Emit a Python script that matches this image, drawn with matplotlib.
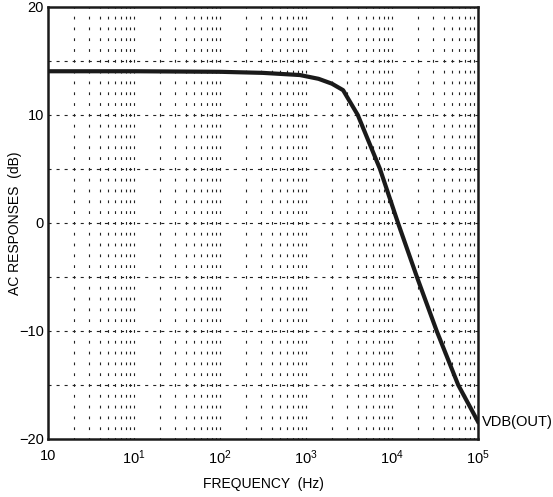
import numpy as np
import matplotlib
matplotlib.use("Agg")
import matplotlib.pyplot as plt

plt.rcParams['font.family'] = ['Liberation Sans', 'DejaVu Sans']
plt.rcParams['mathtext.default'] = 'regular'
plt.rcParams['lines.scale_dashes'] = False

# frequency response
freq = [1, 10, 100, 316, 850, 1400, 2000, 2700, 4000, 7250, 11750, 19500, 33100, 58900, 100000]
vdb = [14.05, 14.05, 14.0, 13.9, 13.7, 13.35, 12.9, 12.3, 10.0, 5.0, 0.0, -5.0, -10.0, -15.0, -18.4]

xticks = [1, 10, 100, 1000, 10000, 100000]
xlabels = ['10', '10$^{1}$', '10$^{2}$', '10$^{3}$', '10$^{4}$', '10$^{5}$']
yticks = [-20, -10, 0, 10, 20]
hgrid = [-15, -10, -5, 0, 5, 10, 15]

fig = plt.figure(figsize=(5.53, 4.97), dpi=100)
ax = fig.add_axes([48/553, 1 - 439/497, 430/553, 432/497])

# vertical dotted grid at every 1..9 x decade
vx = [m * 10**d for d in range(0, 5) for m in range(2, 11)]
for x in vx:
    ax.axvline(x, color='#222222', lw=0.8, linestyle=(1.0, (2.0, 5.78)), zorder=1)
for y in hgrid:
    ax.axhline(y, color='#222222', lw=0.8, linestyle=(0, (2.2, 3.6)), zorder=1)

ax.plot(freq, vdb, color='#1a1a1a', lw=3.0, zorder=3, solid_joinstyle='round')

ax.set_xscale('log')
ax.set_xlim(1, 1e5)
ax.set_ylim(-20, 20)
ax.set_xticks(xticks)
ax.set_xticklabels(xlabels)
ax.xaxis.set_minor_locator(matplotlib.ticker.NullLocator())
ax.set_yticks(yticks)
ax.tick_params(length=0, labelsize=10.5)
ax.tick_params(axis='y', pad=3)
ax.tick_params(axis='x', pad=7)
for s in ax.spines.values():
    s.set_linewidth(1.8)
    s.set_color('#1a1a1a')

fig.text(263/553, 1 - 484/497, 'FREQUENCY  (Hz)', fontsize=10,
         ha='center', va='center')
fig.text(15/553, 1 - 223/497, 'AC RESPONSES  (dB)', fontsize=10,
         rotation=90, ha='center', va='center')

ax.annotate('VDB(OUT)', (1e5, vdb[-1]), xytext=(3, 0), textcoords='offset points',
            fontsize=10.5, va='center', ha='left', annotation_clip=False)

fig.savefig('out.png', dpi=100)
